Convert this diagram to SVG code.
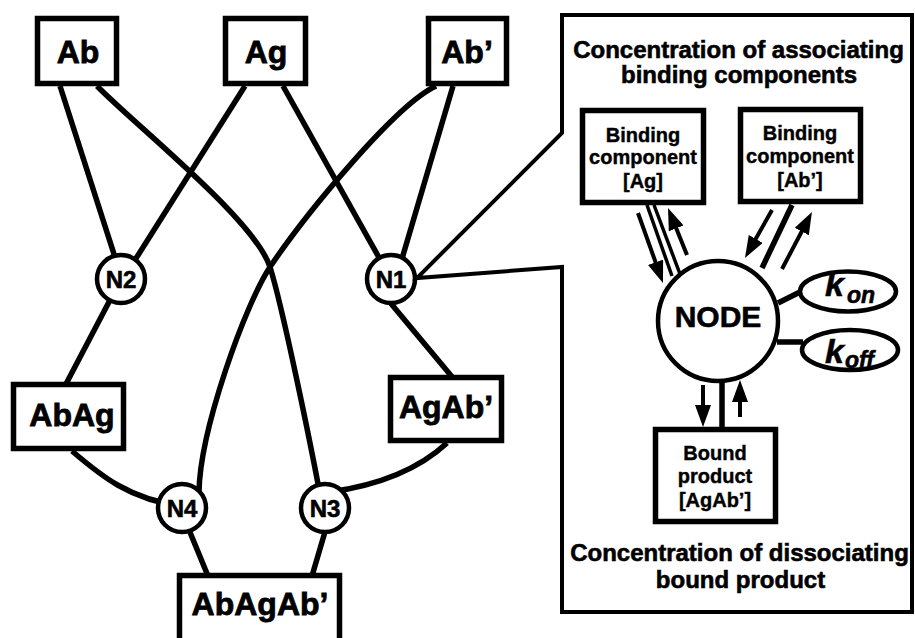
<svg xmlns="http://www.w3.org/2000/svg" width="915" height="638" viewBox="0 0 915 638">
<defs>
<style>
.t{font-family:"Liberation Sans",Arial,Helvetica,sans-serif;font-weight:bold;fill:#000;text-anchor:middle;stroke:#000;stroke-width:0.6}
.big{font-size:32px;stroke-width:0.8}
.nl{font-size:24px}
.title{font-size:24px}
.small{font-size:20px;stroke-width:0.4}
.box{fill:#fff;stroke:#000;stroke-width:5.5}
.circ{fill:#fff;stroke:#000;stroke-width:4.5}
.conn{fill:none;stroke:#000;stroke-width:5.5;stroke-linecap:butt}
.thin{fill:none;stroke:#000;stroke-width:3.5}
.arr{fill:none;stroke:#000;stroke-width:4;marker-end:url(#ah)}
.k{font-family:"Liberation Sans",Arial,Helvetica,sans-serif;font-weight:bold;font-style:italic;fill:#000;stroke:#000;stroke-width:0.6}
</style>
<marker id="ah" markerUnits="userSpaceOnUse" markerWidth="22" markerHeight="16" refX="6" refY="8" orient="auto">
<path d="M0,0 L22,8 L0,16 Z" fill="#000"/>
</marker>
</defs>
<rect width="915" height="638" fill="#fff"/>

<g id="connectors">
<path class="conn" d="M60,86 L122,279"/>
<path class="conn" d="M245,86 L123,279"/>
<path class="conn" d="M97,86 C135,125 255,220 270,267 C282,305 310,440 322,505"/>
<path class="conn" d="M283,86 L391,279"/>
<path class="conn" d="M453,86 L396,279"/>
<path class="conn" d="M436,86 C395,105 305,215 270,267 C245,305 200,430 199,492"/>
<path class="conn" d="M121,279 L66,384"/>
<path class="conn" d="M388,300 L453,378"/>
<path class="conn" d="M72,451 C100,475 130,500 182,506"/>
<path class="conn" d="M447,443 C420,468 380,485 330,492"/>
<path class="conn" d="M180,508 L208,576"/>
<path class="conn" d="M332,508 L312,576"/>
</g>

<g id="node-Ab"><rect class="box" x="37.5" y="18.5" width="79" height="65"/><text class="t big" x="78" y="63">Ab</text></g>
<g id="node-Ag"><rect class="box" x="225.5" y="18.5" width="80" height="65"/><text class="t big" x="266" y="63">Ag</text></g>
<g id="node-Abp"><rect class="box" x="428.5" y="18.5" width="78" height="65"/><text class="t big" x="467" y="63">Ab’</text></g>
<g id="node-N2"><circle class="circ" cx="121" cy="279" r="24"/><text class="t nl" x="121" y="287.5">N2</text></g>
<g id="node-N1"><circle class="circ" cx="391" cy="279" r="24"/><text class="t nl" x="391" y="287.5">N1</text></g>
<g id="node-AbAg"><rect class="box" x="13.5" y="384.5" width="110" height="64"/><text class="t big" x="72" y="426">AbAg</text></g>
<g id="node-AgAbp"><rect class="box" x="390.5" y="377.5" width="111" height="63"/><text class="t big" x="446" y="418">AgAb’</text></g>
<g id="node-N4"><circle class="circ" cx="182" cy="508" r="24"/><text class="t nl" x="182" y="516.5">N4</text></g>
<g id="node-N3"><circle class="circ" cx="325" cy="508" r="24"/><text class="t nl" x="325" y="516.5">N3</text></g>
<g id="node-AbAgAbp"><rect class="box" x="179.5" y="575.5" width="160" height="80"/><text class="t big" x="260" y="615">AbAgAb’</text></g>

<g id="panel">
<path d="M562,15 L912,15 L912,612 L562,612 L562,267 L417,278 L562,133 Z" fill="#fff" stroke="#000" stroke-width="4" stroke-linejoin="miter"/>
<text class="t title" x="738.5" y="58">Concentration of associating</text>
<text class="t title" x="739" y="83">binding components</text>
<text class="t title" x="739.5" y="561">Concentration of dissociating</text>
<text class="t title" x="740.5" y="588">bound product</text>
</g>

<g id="panel-connectors">
<path class="thin" d="M647,205 L672,276"/>
<path class="thin" d="M654,205 L680,274"/>
<path class="conn" d="M792,205 L762,268"/>
<path class="conn" d="M722,380 L722,428"/>
<path class="conn" d="M778,303 L800,292"/>
<path class="conn" d="M777,342 L803,342"/>
<path class="arr" d="M638,213 L657.6,267.9"/>
<path class="arr" d="M687,255 L674,222.8"/>
<path class="arr" d="M772,210 L752.8,244.1"/>
<path class="arr" d="M782,269 L804.5,226.2"/>
<path class="arr" d="M703,385 L703,411"/>
<path class="arr" d="M740,417 L740,396"/>
</g>

<g id="node-BindAg"><rect class="box" x="582.5" y="110.5" width="121" height="92"/>
<text class="t small" x="643" y="141.5">Binding</text><text class="t small" x="643" y="164">component</text><text class="t small" x="643" y="188">[Ag]</text></g>
<g id="node-BindAbp"><rect class="box" x="740.5" y="109.5" width="120" height="92"/>
<text class="t small" x="800" y="140">Binding</text><text class="t small" x="800" y="163">component</text><text class="t small" x="800" y="187">[Ab’]</text></g>
<g id="node-NODE"><circle class="circ" cx="718" cy="321" r="60"/><text class="t" style="font-size:30px" x="718" y="327">NODE</text></g>
<g id="node-kon"><ellipse class="circ" cx="848" cy="291.5" rx="48" ry="20"/><text class="k" x="825" y="296" style="font-size:34px">k<tspan style="font-size:23px" x="847" y="303">on</tspan></text></g>
<g id="node-koff"><ellipse class="circ" cx="850" cy="350" rx="48" ry="20"/><text class="k" x="825" y="363" style="font-size:34px">k<tspan style="font-size:23px" x="845" y="368">off</tspan></text></g>
<g id="node-Bound"><rect class="box" x="655.5" y="429.5" width="120" height="92"/>
<text class="t small" x="715" y="460">Bound</text><text class="t small" x="715" y="483">product</text><text class="t small" x="715" y="507">[AgAb’]</text></g>
</svg>
